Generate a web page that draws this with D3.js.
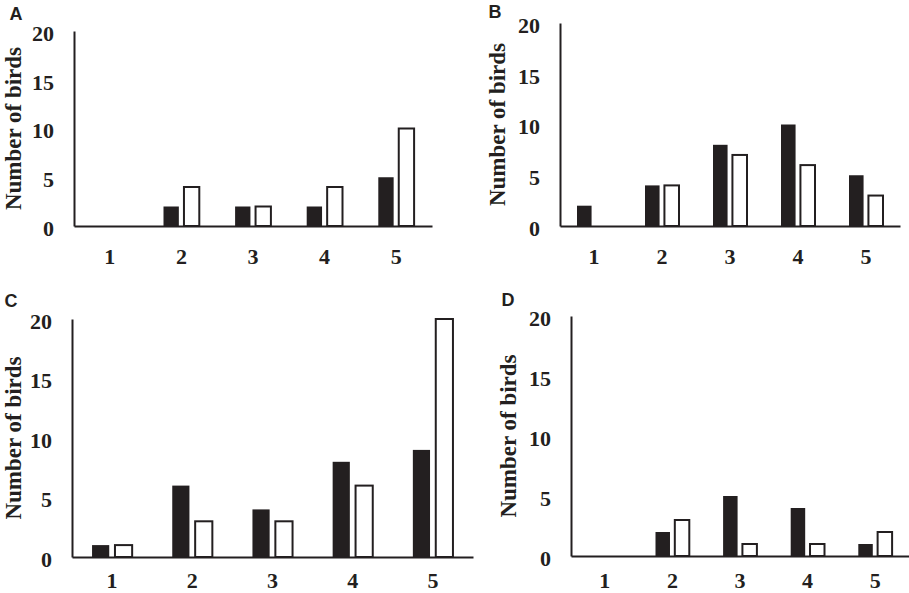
<!DOCTYPE html>
<html lang="en">
<head>
<meta charset="UTF-8">
<title>Number of birds</title>
<script src="https://d3js.org/d3.v7.min.js"></script>
<style>
  body { margin: 0; background: #ffffff; }
  .tick text { font-family: "Times New Roman", "Liberation Serif", serif; font-weight: bold; font-size: 22px; fill: #231f20; }
  .ytitle { font-family: "Times New Roman", "Liberation Serif", serif; font-weight: bold; font-size: 23px; fill: #231f20; }
  .plabel { font-family: Arial, "Liberation Sans", sans-serif; font-weight: bold; font-size: 18px; fill: #231f20; }
</style>
</head>
<body>
<svg id="chart" width="909" height="593"></svg>
<script>
// data
const categories = ["1", "2", "3", "4", "5"];
const yTicks = [0, 5, 10, 15, 20];
const panelLabels = ["A", "B", "C", "D"];
const yTitle = "Number of birds";

const blackA = [0, 2, 2, 2, 5];
const whiteA = [0, 4, 2, 4, 10];
const blackB = [2, 4, 8, 10, 5];
const whiteB = [0, 4, 7, 6, 3];
const blackC = [1, 6, 4, 8, 9];
const whiteC = [1, 3, 3, 6, 20];
const blackD = [0, 2, 5, 4, 1];
const whiteD = [0, 3, 1, 1, 2];

const blackSeries = [blackA, blackB, blackC, blackD];
const whiteSeries = [whiteA, whiteB, whiteC, whiteD];

// where each panel sits on the page (tx = x of the axis title)
const layout = [
  { x0: 74,  x1: 432, top: 31,  base: 226, lx: 16,  ly: 14,  pad: 22, tx: 13 },
  { x0: 560, x1: 900, top: 23,  base: 226, lx: 495, ly: 12,  pad: 22, tx: 497 },
  { x0: 72,  x1: 473, top: 319, base: 557, lx: 11,  ly: 301, pad: 15, tx: 13 },
  { x0: 571, x1: 909, top: 316, base: 556, lx: 508, ly: 300, pad: 16, tx: 508 }
];

const ink = "#231f20";
const svg = d3.select("#chart");

layout.forEach(function(p, i) {
  const g = svg.append("g");

  const x = d3.scaleBand().domain(categories).range([p.x0, p.x1]);
  const bw = x.bandwidth();
  const xs = d3.scaleBand().domain(["black", "white"])
               .range([0.25 * bw, 0.75 * bw])
               .paddingInner(0.25);
  const y = d3.scaleLinear().domain([0, 20]).range([p.base, p.top]);

  // rows for the bars, zero values leave no mark
  const rows = [];
  categories.forEach(function(c, k) {
    rows.push({ cat: c, kind: "black", v: blackSeries[i][k] });
    rows.push({ cat: c, kind: "white", v: whiteSeries[i][k] });
  });

  g.selectAll("rect")
    .data(rows.filter(function(d) { return d.v > 0; }))
    .join("rect")
    .attr("x", function(d) { return x(d.cat) + xs(d.kind); })
    .attr("width", xs.bandwidth())
    .attr("y", function(d) { return y(d.v); })
    .attr("height", function(d) { return p.base - y(d.v); })
    .attr("fill", function(d) { return d.kind === "black" ? ink : "#ffffff"; })
    .attr("stroke", function(d) { return d.kind === "black" ? "none" : ink; })
    .attr("stroke-width", 2);

  // y axis: a line and the numbers, no tick marks
  const ya = g.append("g")
    .attr("transform", "translate(" + p.x0 + ",0)")
    .call(d3.axisLeft(y).tickValues(yTicks).tickSize(0).tickPadding(20));
  ya.select(".domain").attr("stroke", ink).attr("stroke-width", 2);
  ya.selectAll(".tick text").attr("dy", "0.42em");

  // x axis
  const xa = g.append("g")
    .attr("transform", "translate(0," + p.base + ")")
    .call(d3.axisBottom(x).tickSize(0).tickPadding(p.pad));
  xa.select(".domain").attr("stroke", ink).attr("stroke-width", 2);

  // axis title
  const cy = (p.top + p.base) / 2;
  g.append("text")
    .attr("class", "ytitle")
    .attr("transform", "translate(" + p.tx + "," + cy + ") rotate(-90)")
    .attr("text-anchor", "middle")
    .attr("dy", "0.35em")
    .text(yTitle);

  // panel letter
  g.append("text")
    .attr("class", "plabel")
    .attr("x", p.lx)
    .attr("y", p.ly)
    .attr("text-anchor", "middle")
    .attr("dy", "0.36em")
    .text(panelLabels[i]);
});
</script>
</body>
</html>
